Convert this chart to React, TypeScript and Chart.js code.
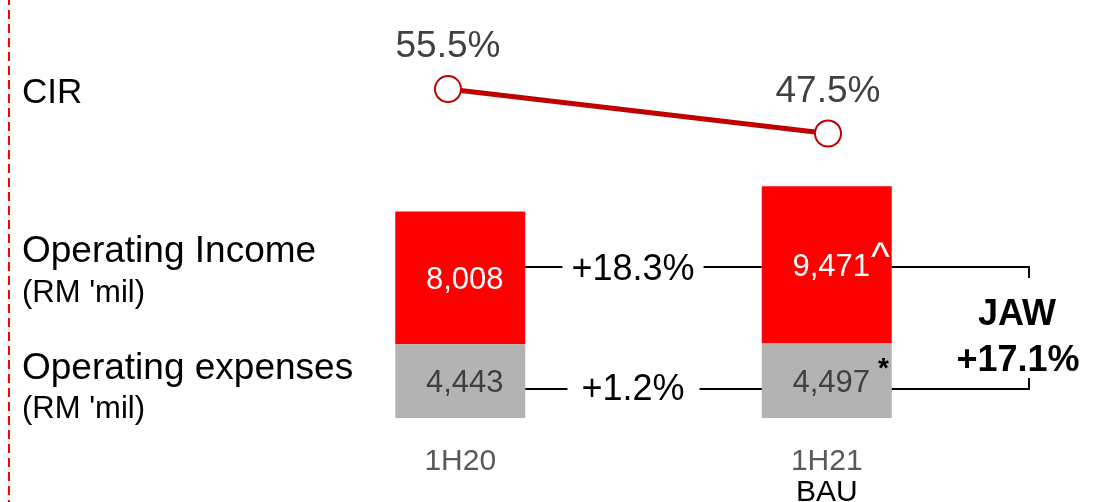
import React, { useEffect, useRef } from 'react';
import { Chart, registerables } from 'chart.js';

Chart.register(...registerables);

// ---- data ----
const categories = ['1H20', '1H21'];
const categorySubLabels = ['', 'BAU'];
const operatingExpenses = [4443, 4497];
const operatingIncome = [8008, 9471];
const cirValues = [55.5, 47.5];
const incomeMarks = ['', '^'];
const expenseMarks = ['', '*'];
const incomeGrowth = '+18.3%';
const expenseGrowth = '+1.2%';
const jawLines = ['JAW', '+17.1%'];
const rowTitles = ['CIR', 'Operating Income', 'Operating expenses'];
const rowUnits = ['', "(RM 'mil)", "(RM 'mil)"];

const FONT = '"Liberation Sans", Arial, Helvetica, sans-serif';

function drawText(
  ctx: CanvasRenderingContext2D,
  s: string,
  x: number,
  y: number,
  size: number,
  color: string,
  align: CanvasTextAlign = 'left',
  weight = 'normal'
) {
  ctx.save();
  ctx.font = `${weight} ${size}px ${FONT}`;
  ctx.fillStyle = color;
  ctx.textAlign = align;
  ctx.textBaseline = 'alphabetic';
  ctx.fillText(s, x, y);
  ctx.restore();
}

function line(ctx: CanvasRenderingContext2D, pts: [number, number][], color = '#000', w = 2) {
  ctx.save();
  ctx.strokeStyle = color;
  ctx.lineWidth = w;
  ctx.beginPath();
  pts.forEach(([x, y], i) => (i === 0 ? ctx.moveTo(x, y) : ctx.lineTo(x, y)));
  ctx.stroke();
  ctx.restore();
}

const annotations = {
  id: 'annotations',
  afterDatasetsDraw(chart: any) {
    const ctx: CanvasRenderingContext2D = chart.ctx;
    // dashed red divider on the left
    ctx.save();
    ctx.strokeStyle = '#ff0000';
    ctx.lineWidth = 2;
    ctx.setLineDash([9, 5]);
    ctx.lineDashOffset = 4;
    ctx.beginPath();
    ctx.moveTo(9, 0);
    ctx.lineTo(9, 502);
    ctx.stroke();
    ctx.restore();

    // row labels
    drawText(ctx, rowTitles[0], 22, 103, 35, '#000');
    drawText(ctx, rowTitles[1], 22, 262, 37, '#000');
    drawText(ctx, rowUnits[1], 22, 302, 31, '#000');
    drawText(ctx, rowTitles[2], 22, 379, 37, '#000');
    drawText(ctx, rowUnits[2], 22, 418, 31, '#000');

    // CIR labels
    const lineMeta = chart.getDatasetMeta(0);
    lineMeta.data.forEach((p: any, i: number) => {
      drawText(ctx, cirValues[i].toFixed(1) + '%', p.x, p.y - 32, 37, '#404040', 'center');
    });

    const expMeta = chart.getDatasetMeta(1);
    const incMeta = chart.getDatasetMeta(2);
    const valSize = 31;
    expMeta.data.forEach((b: any, i: number) => {
      const mid = (b.y + b.base) / 2;
      const s = operatingExpenses[i].toLocaleString('en-US');
      const cx = b.x + 4.5;
      drawText(ctx, s, cx, mid + 0.358 * valSize, valSize, '#404040', 'center');
      if (expenseMarks[i]) {
        ctx.save();
        ctx.font = `${valSize}px ${FONT}`;
        const w = ctx.measureText(s).width;
        ctx.restore();
        drawText(ctx, expenseMarks[i], cx + w / 2 + 8, mid + 0.358 * valSize - 15, 28, '#000', 'left', 'bold');
      }
    });
    incMeta.data.forEach((b: any, i: number) => {
      const mid = (b.y + b.base) / 2;
      const s = operatingIncome[i].toLocaleString('en-US');
      const cx = b.x + 4.5;
      drawText(ctx, s, cx, mid + 0.358 * valSize, valSize, '#ffffff', 'center');
      if (incomeMarks[i]) {
        ctx.save();
        ctx.font = `${valSize}px ${FONT}`;
        const w = ctx.measureText(s).width;
        ctx.restore();
        drawText(ctx, incomeMarks[i], cx + w / 2 + 1, mid + 0.358 * valSize - 6, 40, '#ffffff', 'left');
      }
    });

    // connectors between bars
    const b0 = incMeta.data[0];
    const b1 = incMeta.data[1];
    const r0 = b0.x + b0.width / 2;
    const l1 = b1.x - b1.width / 2;
    const r1 = b1.x + b1.width / 2;
    const topY = 267;
    const botY = 389;
    const midX = 633;
    ctx.save();
    ctx.font = `36px ${FONT}`;
    const wTop = ctx.measureText(incomeGrowth).width;
    const wBot = ctx.measureText(expenseGrowth).width;
    ctx.restore();
    line(ctx, [[r0, topY], [midX - wTop / 2 - 9, topY]]);
    line(ctx, [[midX + wTop / 2 + 9, topY], [l1, topY]]);
    drawText(ctx, incomeGrowth, midX, 280, 36, '#000', 'center');
    line(ctx, [[r0, botY], [midX - wBot / 2 - 14, botY]]);
    line(ctx, [[midX + wBot / 2 + 15, botY], [l1, botY]]);
    drawText(ctx, expenseGrowth, midX, 400, 36, '#000', 'center');

    // JAW bracket
    const bx = 1029;
    line(ctx, [[r1, topY], [bx, topY], [bx, topY + 11]]);
    line(ctx, [[r1, botY], [bx, botY], [bx, botY - 11]]);
    drawText(ctx, jawLines[0], 1017, 325, 36, '#000', 'center', 'bold');
    drawText(ctx, jawLines[1], 1018, 371, 36, '#000', 'center', 'bold');

    // category labels
    const xs = chart.scales.x;
    categories.forEach((c, i) => {
      const x = xs.getPixelForValue(i);
      drawText(ctx, c, x, 470, 30, '#595959', 'center');
      if (categorySubLabels[i]) drawText(ctx, categorySubLabels[i], x, 501, 30, '#000', 'center');
    });
  },
};

export default function App() {
  const ref = useRef<HTMLCanvasElement>(null);
  useEffect(() => {
    const canvas = ref.current;
    if (!canvas) return;
    const chart = new Chart(canvas, {
      type: 'bar',
      data: {
        labels: categories,
        datasets: [
          {
            type: 'line',
            label: 'CIR',
            data: cirValues.map((v, i) => ({ x: i, y: v })),
            xAxisID: 'xLine',
            yAxisID: 'yCir',
            borderColor: '#c00000',
            borderWidth: 5,
            pointRadius: 13,
            pointBorderWidth: 2,
            pointBackgroundColor: '#ffffff',
            pointBorderColor: '#c00000',
            order: 0,
          } as any,
          {
            label: 'Operating expenses',
            data: operatingExpenses,
            backgroundColor: '#b3b3b3',
            barPercentage: 0.3547,
            categoryPercentage: 1,
            grouped: false,
            order: 1,
          },
          {
            label: 'Operating Income',
            data: operatingIncome,
            backgroundColor: '#ff0000',
            barPercentage: 0.3547,
            categoryPercentage: 1,
            grouped: false,
            order: 1,
          },
        ],
      },
      options: {
        responsive: false,
        animation: false,
        layout: { padding: { left: 277, right: 90, top: 10, bottom: 84 } },
        plugins: {
          legend: { display: false },
          tooltip: { enabled: false },
          title: { display: false },
        },
        scales: {
          x: { display: false, stacked: true, offset: true },
          y: { display: false, stacked: true, min: 0, max: 24300 },
          xLine: { type: 'linear', display: false, offset: false, min: -0.45, max: 1.479 },
          yCir: { type: 'linear', position: 'right', display: false, min: -3.7, max: 68.83 },
        },
      } as any,
      plugins: [annotations],
    });
    return () => chart.destroy();
  }, []);

  return (
    <div style={{ position: 'fixed', left: 0, top: 0, width: 1100, height: 502, background: '#fff' }}>
      <canvas ref={ref} width={1100} height={502} style={{ display: 'block' }} />
    </div>
  );
}
